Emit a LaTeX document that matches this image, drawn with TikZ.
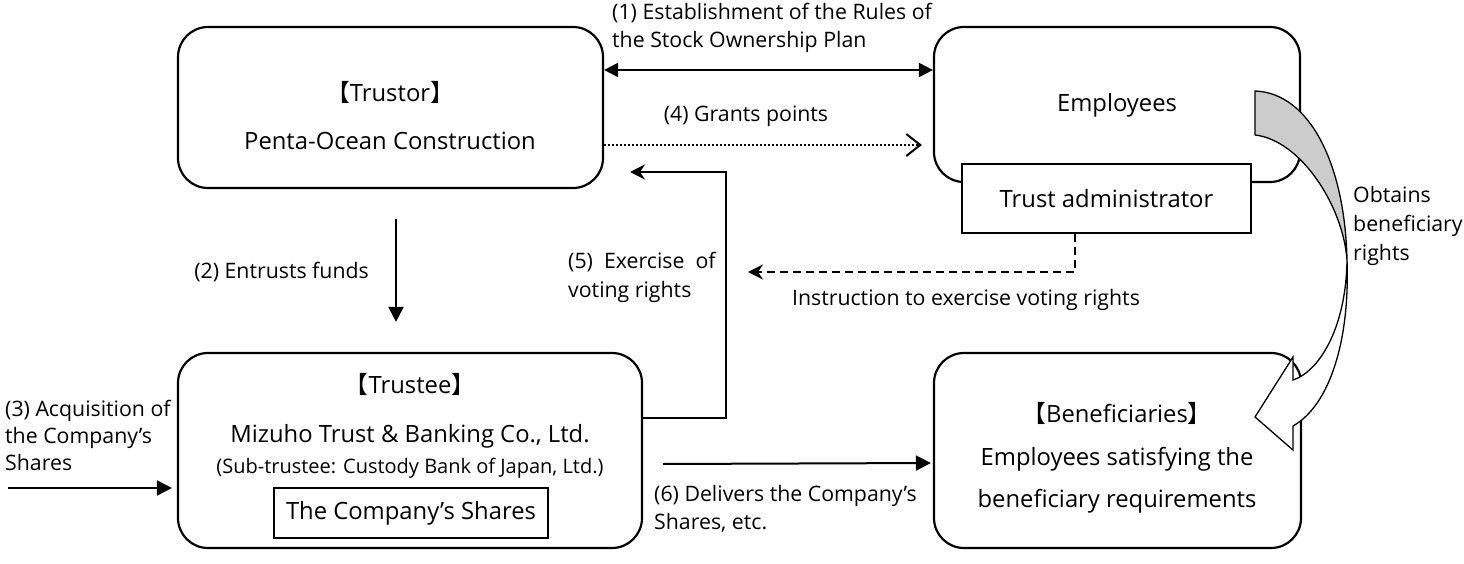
\documentclass[tikz,border=0pt]{standalone}
\usepackage{fontspec}
\setmainfont{Open Sans}
\newfontfamily\cjk{Noto Sans CJK JP}
\usetikzlibrary{arrows.meta}
\newcommand{\lb}{{\cjk 【}}
\newcommand{\rb}{{\cjk 】}}
\begin{document}
\begin{tikzpicture}[x=1pt,y=-1pt,
  rbox/.style={draw, line width=2.2pt, rounded corners=30pt, inner sep=0pt},
  sbox/.style={draw, line width=1.8pt, fill=white, inner sep=0pt},
  txt/.style={inner sep=0pt, font=\fontsize{23.8}{28}\selectfont},
  lbl/.style={inner sep=0pt, font=\fontsize{21.3}{28}\selectfont},
  subt/.style={inner sep=0pt, font=\fontsize{20}{24}\selectfont},
  conn/.style={line width=2pt},
  tri/.style={conn, -{Triangle[length=15pt,width=15pt]}},
  stl/.style={conn, -{Stealth[length=15pt,width=15pt,inset=5pt]}},
]
\useasboundingbox (0,0) rectangle (1464,564);

% boxes
\node[rbox, minimum width=425pt, minimum height=161pt] (trustor) at (390.5,107.5) {};
\node[rbox, minimum width=366pt, minimum height=155pt] (employees) at (1117,104.5) {};
\node[sbox, minimum width=289pt, minimum height=69pt] (tadmin) at (1106.5,198.5) {};
\node[rbox, minimum width=464pt, minimum height=195pt] (trustee) at (410,450.5) {};
\node[sbox, line width=1.5pt, minimum width=274pt, minimum height=50pt] (shares) at (411,513) {};
\node[rbox, minimum width=367pt, minimum height=195pt] (benef) at (1117.5,450.5) {};

% box texts
\node[txt] (trustorT) at (390,92) {\lb Trustor\rb};
\node[txt] (trustorN) at (390,141) {Penta-Ocean Construction};
\node[txt] (empT) at (1117,105) {Employees};
\node[txt] (tadminT) at (1106.5,199) {Trust administrator};
\node[txt] (trusteeT) at (410,384) {\lb Trustee\rb};
\node[txt] (trusteeN) at (410,436) {Mizuho Trust \& Banking Co., Ltd.};
\node[subt] (trusteeS) at (410,468) {(Sub-trustee: Custody Bank of Japan, Ltd.)};
\node[txt] (sharesT) at (411,513) {The Company’s Shares};
\node[txt] (benefT) at (1117,413) {\lb Beneficiaries\rb};
\node[txt] (benefN1) at (1117,459) {Employees satisfying the};
\node[txt] (benefN2) at (1117,501) {beneficiary requirements};

% helper coordinates
\coordinate (src3) at (8,488);
\coordinate (v5top) at (726,172);
\coordinate (v5end) at (630,172);
\coordinate (d5end) at (748,272);

% connectors
\draw[conn, {Triangle[length=14pt,width=14pt]}-{Triangle[length=14pt,width=14pt]}]
  ([yshift=37.5pt]trustor.east) -- ([yshift=34.5pt]employees.west);
\draw[conn, dash pattern=on 2pt off 2pt, -{Straight Barb[length=14pt,width=22pt,line width=2pt]}]
  ([yshift=-37.5pt]trustor.east) -- ([xshift=-11pt,yshift=-40.5pt]employees.west);
\draw[tri, shorten <=30pt, shorten >=30pt] ([xshift=5.5pt]trustor.south) -- ([xshift=-14pt]trustee.north);
\draw[tri, shorten >=5pt] (src3) -- (trustee.west |- src3);
\draw[tri, shorten >=2pt] ([xshift=20pt,yshift=-13.5pt]trustee.east) -- ([yshift=-12.5pt]benef.west);
\draw[stl] ([yshift=32.5pt]trustee.east) -| (v5top) -- (v5end);
\draw[stl, dash pattern=on 8pt off 5pt] ([xshift=-31.5pt]tadmin.south) |- (d5end);

% labels
\node[lbl, anchor=west, align=left] (l1) at (612,28) {(1) Establishment of the Rules of\\the Stock Ownership Plan};
\node[lbl] (l4) at (746,116) {(4) Grants points};
\node[lbl, anchor=east] (l2) at (369,272) {(2) Entrusts funds};
\node[lbl, anchor=west, align=left, font=\fontsize{21.3}{27}\selectfont] (l3) at (5,435) {(3) Acquisition of\\the Company’s\\Shares};
\node[lbl, anchor=west, align=left, font=\fontsize{21.3}{29}\selectfont] (l5) at (568,277.5) {(5)\ \ Exercise\ \ of\\voting rights};
\node[lbl] (linstr) at (966,300) {Instruction to exercise voting rights};
\node[lbl, anchor=west, align=left] (l6) at (654,509) {(6) Delivers the Company’s\\Shares, etc.};
\node[lbl, anchor=west, align=left, font=\fontsize{21.3}{29}\selectfont] (lob) at (1353,226) {Obtains\\beneficiary\\rights};

% curved block arrow
\draw[line width=1.3pt, fill=black!20, line join=round]
  (1255,91) .. controls (1310,93) and (1345,165) .. (1347,260)
  .. controls (1343,205) and (1300,140) .. (1255,135) -- cycle;
\draw[line width=1.3pt, fill=white, line join=miter]
  (1347,260) .. controls (1346,330) and (1318,372) .. (1293,380)
  -- (1293,357) -- (1255,417) -- (1293,450) -- (1293,426)
  .. controls (1330,405) and (1350,340) .. (1347,260) -- cycle;
\end{tikzpicture}
\end{document}
